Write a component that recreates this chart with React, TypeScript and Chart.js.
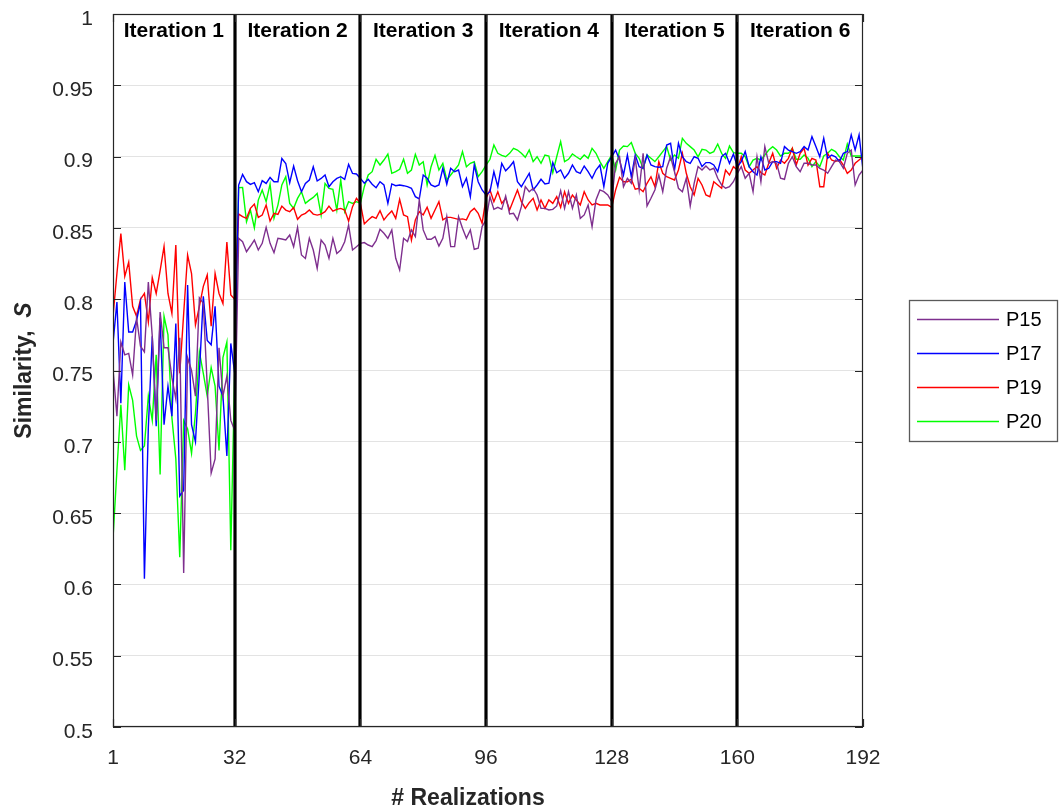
import React, { useEffect, useRef } from "react";
import { Chart, registerables } from "chart.js";

Chart.register(...registerables);

// ---------- data ----------
const xTicks = [1, 32, 64, 96, 128, 160, 192];
const iterationBounds = [1, 32, 64, 96, 128, 160, 192];
const iterationLabels = ["Iteration 1", "Iteration 2", "Iteration 3", "Iteration 4", "Iteration 5", "Iteration 6"];
const seriesNames = ["P15", "P17", "P19", "P20"];
const seriesColors = ["#7E2F8E", "#0000FF", "#FF0000", "#00FF00"];

const P15 = [
  0.751, 0.718, 0.770, 0.761, 0.762, 0.747, 0.787, 0.767, 0.763, 0.812, 0.774, 0.715, 0.791, 0.766, 0.766, 0.745,
  0.730, 0.773, 0.608, 0.759, 0.750, 0.732, 0.801, 0.797, 0.739, 0.678, 0.688, 0.766, 0.732, 0.746, 0.715, 0.708,
  0.8427, 0.8403, 0.8333, 0.8373, 0.8415, 0.8345, 0.8392, 0.8504, 0.8392, 0.8326, 0.8427, 0.8422, 0.8415, 0.8450, 0.8368, 0.8504,
  0.8310, 0.8286, 0.8427, 0.8345, 0.8216, 0.8415, 0.8380, 0.8286, 0.8427, 0.8321, 0.8345, 0.8403, 0.8520, 0.8345, 0.8368, 0.8392,
  0.8397, 0.8380, 0.8369, 0.8411, 0.8490, 0.8462, 0.8427, 0.8486, 0.8287, 0.8205, 0.8427, 0.8404, 0.8486, 0.8439, 0.8696, 0.8486,
  0.8420, 0.8420, 0.8439, 0.8373, 0.8427, 0.8579, 0.8369, 0.8369, 0.8579, 0.8497, 0.8427, 0.8486, 0.8350, 0.8357, 0.8509, 0.8556,
  0.8719, 0.8630, 0.8644, 0.8630, 0.8724, 0.8598, 0.8602, 0.8556, 0.8649, 0.8789, 0.8754, 0.8778, 0.8731, 0.8637, 0.8637, 0.8626,
  0.8630, 0.8654, 0.8761, 0.8637, 0.8754, 0.8637, 0.8731, 0.8567, 0.8591, 0.8661, 0.8509, 0.8696, 0.8766, 0.8754, 0.8731, 0.8684,
  0.8953, 0.8999, 0.8789, 0.8848, 0.8813, 0.8988, 0.8766, 0.9023, 0.8654, 0.8708, 0.8766, 0.8871, 0.8754, 0.8918, 0.8999, 0.8894,
  0.8778, 0.8754, 0.8848, 0.8654, 0.8813, 0.8930, 0.8906, 0.8934, 0.8906, 0.8918, 0.8848, 0.8801, 0.8778, 0.8789, 0.8824, 0.8883,
  0.8930, 0.8848, 0.8883, 0.8754, 0.8999, 0.8824, 0.9070, 0.8953, 0.8965, 0.8953, 0.8848, 0.8841, 0.8953, 0.8999, 0.8930, 0.8894,
  0.8953, 0.8953, 0.8941, 0.8941, 0.8918, 0.8906, 0.8883, 0.8930, 0.8976, 0.8965, 0.8918, 0.9023, 0.9046, 0.8801, 0.8871, 0.8906,
];

const P17 = [
  0.769, 0.798, 0.727, 0.812, 0.777, 0.777, 0.785, 0.798, 0.604, 0.710, 0.774, 0.711, 0.787, 0.712, 0.739, 0.718,
  0.783, 0.662, 0.666, 0.810, 0.712, 0.700, 0.748, 0.802, 0.771, 0.768, 0.795, 0.739, 0.732, 0.690, 0.769, 0.748,
  0.8800, 0.8875, 0.8824, 0.8805, 0.8817, 0.8754, 0.8831, 0.8812, 0.8854, 0.8824, 0.8824, 0.8987, 0.8952, 0.8817, 0.8934, 0.8831,
  0.8754, 0.8812, 0.8836, 0.8929, 0.8829, 0.8847, 0.8871, 0.8789, 0.8824, 0.8847, 0.8859, 0.8840, 0.8945, 0.8882, 0.8878, 0.8847,
  0.8813, 0.8841, 0.8806, 0.8782, 0.8824, 0.8801, 0.8672, 0.8808, 0.8796, 0.8801, 0.8796, 0.8789, 0.8778, 0.8719, 0.8703, 0.8871,
  0.8848, 0.8801, 0.8789, 0.8801, 0.8918, 0.8806, 0.8918, 0.8894, 0.8906, 0.8789, 0.8848, 0.8719, 0.8941, 0.8824, 0.8766, 0.8731,
  0.8754, 0.8894, 0.8789, 0.8953, 0.8901, 0.8929, 0.8964, 0.8824, 0.8789, 0.8836, 0.8883, 0.8766, 0.8801, 0.8841, 0.8808, 0.8813,
  0.8958, 0.8887, 0.8906, 0.8848, 0.8883, 0.8941, 0.8894, 0.8883, 0.8934, 0.8894, 0.8848, 0.8906, 0.8941, 0.8789, 0.8953, 0.8999,
  0.9046, 0.8976, 0.8871, 0.9011, 0.8859, 0.9011, 0.8929, 0.8918, 0.9011, 0.8941, 0.8930, 0.8925, 0.8930, 0.9081, 0.9093, 0.8906,
  0.9093, 0.8999, 0.8965, 0.8953, 0.8999, 0.8988, 0.8930, 0.8958, 0.8958, 0.8941, 0.8894, 0.8999, 0.9023, 0.8953, 0.9018, 0.8930,
  0.8965, 0.9035, 0.8930, 0.8894, 0.8871, 0.8999, 0.8906, 0.8918, 0.8965, 0.8965, 0.8953, 0.9070, 0.9046, 0.9035, 0.9023, 0.9035,
  0.9070, 0.9046, 0.9140, 0.9070, 0.8999, 0.9128, 0.8988, 0.9011, 0.8999, 0.8965, 0.9023, 0.9035, 0.9152, 0.9046, 0.9152, 0.8906,
];

const P19 = [
  0.788, 0.818, 0.846, 0.816, 0.826, 0.795, 0.788, 0.800, 0.804, 0.784, 0.815, 0.804, 0.820, 0.837, 0.804, 0.790,
  0.838, 0.748, 0.790, 0.831, 0.818, 0.782, 0.795, 0.809, 0.817, 0.781, 0.818, 0.804, 0.797, 0.840, 0.803, 0.800,
  0.8597, 0.8579, 0.8567, 0.8637, 0.8667, 0.8574, 0.8590, 0.8660, 0.8548, 0.8602, 0.8595, 0.8653, 0.8625, 0.8614, 0.8642, 0.8560,
  0.8590, 0.8602, 0.8625, 0.8597, 0.8590, 0.8597, 0.8614, 0.8653, 0.8618, 0.8630, 0.8637, 0.8625, 0.8548, 0.8649, 0.8707, 0.8672,
  0.8528, 0.8556, 0.8579, 0.8567, 0.8621, 0.8556, 0.8591, 0.8619, 0.8567, 0.8700, 0.8591, 0.8579, 0.8415, 0.8556, 0.8614, 0.8591,
  0.8645, 0.8567, 0.8626, 0.8684, 0.8556, 0.8574, 0.8574, 0.8567, 0.8560, 0.8563, 0.8556, 0.8614, 0.8637, 0.8602, 0.8532, 0.8708,
  0.8766, 0.8684, 0.8754, 0.8672, 0.8707, 0.8626, 0.8696, 0.8766, 0.8684, 0.8637, 0.8677, 0.8707, 0.8626, 0.8696, 0.8637, 0.8696,
  0.8672, 0.8719, 0.8644, 0.8754, 0.8672, 0.8731, 0.8696, 0.8661, 0.8754, 0.8696, 0.8661, 0.8672, 0.8661, 0.8661, 0.8661, 0.8644,
  0.8766, 0.8855, 0.8824, 0.8824, 0.8841, 0.8771, 0.8778, 0.8754, 0.8813, 0.8859, 0.8789, 0.8964, 0.8883, 0.8859, 0.8848, 0.8836,
  0.8906, 0.9023, 0.8883, 0.8789, 0.8731, 0.8848, 0.8801, 0.8731, 0.8719, 0.8824, 0.8801, 0.8778, 0.8906, 0.8871, 0.8929, 0.8906,
  0.8999, 0.8906, 0.8883, 0.8906, 0.8930, 0.8887, 0.8871, 0.8953, 0.9023, 0.8918, 0.8976, 0.8953, 0.8988, 0.9058, 0.8941, 0.9023,
  0.9058, 0.8941, 0.8988, 0.8976, 0.8789, 0.8789, 0.9023, 0.8976, 0.8965, 0.8981, 0.8941, 0.8883, 0.8906, 0.8953, 0.8976, 0.8999,
];

const P20 = [
  0.632, 0.680, 0.726, 0.680, 0.740, 0.729, 0.704, 0.694, 0.697, 0.732, 0.715, 0.761, 0.677, 0.788, 0.775, 0.717,
  0.688, 0.619, 0.715, 0.709, 0.692, 0.720, 0.763, 0.748, 0.732, 0.752, 0.739, 0.694, 0.759, 0.770, 0.624, 0.750,
  0.8782, 0.8784, 0.8543, 0.8625, 0.8501, 0.8695, 0.8765, 0.8684, 0.8807, 0.8567, 0.8660, 0.8801, 0.8859, 0.8672, 0.8637, 0.8707,
  0.8754, 0.8672, 0.8695, 0.8714, 0.8742, 0.8590, 0.8812, 0.8777, 0.8770, 0.8625, 0.8836, 0.8614, 0.8684, 0.8672, 0.8684, 0.8672,
  0.8789, 0.8871, 0.8894, 0.8981, 0.8941, 0.8976, 0.9018, 0.8883, 0.8894, 0.8911, 0.8981, 0.8883, 0.8906, 0.9016, 0.8941, 0.8964,
  0.8801, 0.8929, 0.9009, 0.8906, 0.8953, 0.8836, 0.8871, 0.8906, 0.8941, 0.9035, 0.8929, 0.8953, 0.8964, 0.8859, 0.8894, 0.8941,
  0.8981, 0.9081, 0.9023, 0.9009, 0.8999, 0.9023, 0.9058, 0.9046, 0.9023, 0.8995, 0.9046, 0.8965, 0.8999, 0.8953, 0.9011, 0.9004,
  0.8887, 0.8999, 0.9105, 0.8965, 0.8981, 0.9018, 0.8999, 0.8981, 0.9011, 0.8988, 0.9058, 0.9023, 0.8965, 0.8918, 0.8965, 0.9011,
  0.8906, 0.9046, 0.9074, 0.9070, 0.9098, 0.9023, 0.8988, 0.8918, 0.9011, 0.8988, 0.8965, 0.8999, 0.9035, 0.9070, 0.8976, 0.9011,
  0.8988, 0.9128, 0.9093, 0.9070, 0.9046, 0.8999, 0.9051, 0.9046, 0.9023, 0.9035, 0.9088, 0.9023, 0.8988, 0.9074, 0.9028, 0.9023,
  0.9023, 0.8999, 0.8930, 0.8976, 0.8988, 0.8976, 0.9011, 0.9046, 0.9070, 0.9046, 0.9004, 0.9023, 0.9023, 0.9058, 0.8981, 0.8981,
  0.9011, 0.8988, 0.8930, 0.8965, 0.8930, 0.9004, 0.9023, 0.9051, 0.9035, 0.8999, 0.8976, 0.9088, 0.9004, 0.9004, 0.9004, 0.9004,
];

const yMin = 0.5;
const yMax = 1;
const yStep = 0.05;
const xTitle = "# Realizations";
const yTitleMain = "Similarity,  ";
const yTitleSymbol = "S";

const FONT = '"Liberation Sans", Arial, Helvetica, sans-serif';
const AXIS_COLOR = "#262626";

const decorPlugin = {
  id: "decor",
  afterDatasetsDraw(chart: any) {
    const { ctx, chartArea, scales } = chart;
    const { left, right, top, bottom } = chartArea;
    const xs = scales.x;
    const ys = scales.y;
    ctx.save();

    // iteration separators
    ctx.strokeStyle = "#000";
    ctx.lineWidth = 3.2;
    iterationBounds.slice(1, -1).forEach((b) => {
      const px = Math.round(xs.getPixelForValue(b));
      ctx.beginPath();
      ctx.moveTo(px, top);
      ctx.lineTo(px, bottom);
      ctx.stroke();
    });

    // box
    ctx.strokeStyle = AXIS_COLOR;
    ctx.lineWidth = 1.2;
    ctx.strokeRect(left + 0.5, top + 0.5, right - left - 1, bottom - top - 1);

    // inward tick marks
    const tl = 8;
    ctx.lineWidth = 1.2;
    ys.ticks.forEach((t: any) => {
      const py = Math.round(ys.getPixelForValue(t.value)) + 0.5;
      ctx.beginPath();
      ctx.moveTo(left, py);
      ctx.lineTo(left + tl, py);
      ctx.moveTo(right, py);
      ctx.lineTo(right - tl, py);
      ctx.stroke();
    });
    xTicks.forEach((v) => {
      const px = Math.round(xs.getPixelForValue(v)) + 0.5;
      ctx.beginPath();
      ctx.moveTo(px, bottom);
      ctx.lineTo(px, bottom - tl);
      ctx.moveTo(px, top);
      ctx.lineTo(px, top + tl);
      ctx.stroke();
    });

    // iteration labels
    ctx.fillStyle = "#000";
    ctx.font = `bold 21px ${FONT}`;
    ctx.textAlign = "center";
    ctx.textBaseline = "alphabetic";
    iterationLabels.forEach((lab, i) => {
      const a = xs.getPixelForValue(iterationBounds[i]);
      const b = xs.getPixelForValue(iterationBounds[i + 1]);
      ctx.fillText(lab, (a + b) / 2, top + 23);
    });

    // x title
    ctx.fillStyle = AXIS_COLOR;
    ctx.font = `bold 23px ${FONT}`;
    ctx.textAlign = "center";
    ctx.fillText(xTitle, 468, 805);

    // y title (rotated)
    ctx.save();
    ctx.translate(31, (top + bottom) / 2);
    ctx.rotate(-Math.PI / 2);
    ctx.font = `bold 23px ${FONT}`;
    const w1 = ctx.measureText(yTitleMain).width;
    ctx.font = `italic bold 23px ${FONT}`;
    const w2 = ctx.measureText(yTitleSymbol).width;
    const start = -(w1 + w2) / 2;
    ctx.textAlign = "left";
    ctx.font = `bold 23px ${FONT}`;
    ctx.fillText(yTitleMain, start, 0);
    ctx.font = `italic bold 23px ${FONT}`;
    ctx.fillText(yTitleSymbol, start + w1, 0);
    ctx.restore();

    // legend
    const lx = 909, ly = 300, lw = 148, lh = 141;
    ctx.fillStyle = "#fff";
    ctx.fillRect(lx, ly, lw, lh);
    ctx.strokeStyle = "#5a5a5a";
    ctx.lineWidth = 1.3;
    ctx.strokeRect(lx + 0.5, ly + 0.5, lw, lh);
    ctx.font = `20px ${FONT}`;
    ctx.textAlign = "left";
    ctx.textBaseline = "middle";
    seriesNames.forEach((name, i) => {
      const yy = 319 + i * 34;
      ctx.strokeStyle = seriesColors[i];
      ctx.lineWidth = 1.3;
      ctx.beginPath();
      ctx.moveTo(917, yy + 0.5);
      ctx.lineTo(999, yy + 0.5);
      ctx.stroke();
      ctx.fillStyle = "#000";
      ctx.fillText(name, 1006, yy + 1);
    });

    ctx.restore();
  },
};

export default function App() {
  const canvasRef = useRef<HTMLCanvasElement | null>(null);

  useEffect(() => {
    const canvas = canvasRef.current;
    if (!canvas) return;
    const seriesData = [P15, P17, P19, P20];
    const chart = new Chart(canvas, {
      type: "line",
      data: {
        datasets: seriesData.map((arr, si) => ({
          label: seriesNames[si],
          data: arr.map((v, i) => ({ x: i + 1, y: v })),
          borderColor: seriesColors[si],
          backgroundColor: seriesColors[si],
          borderWidth: 1.4,
          pointRadius: 0,
          tension: 0,
          fill: false,
        })),
      },
      options: {
        responsive: false,
        animation: false,
        devicePixelRatio: 1,
        layout: { padding: { top: 14, right: 196, left: 0, bottom: 0 } },
        plugins: {
          legend: { display: false },
          tooltip: { enabled: false },
          title: { display: false },
        },
        scales: {
          x: {
            type: "linear",
            min: 1,
            max: 192,
            afterBuildTicks: (scale: any) => {
              scale.ticks = xTicks.map((v) => ({ value: v }));
            },
            afterFit: (scale: any) => {
              scale.height = 82;
              scale.paddingLeft = 0;
              scale.paddingRight = 0;
            },
            grid: { display: false, drawTicks: false },
            border: { display: false },
            ticks: {
              color: AXIS_COLOR,
              font: { family: FONT, size: 21 },
              padding: 19,
              maxRotation: 0,
              autoSkip: false,
            },
          },
          y: {
            min: yMin,
            max: yMax,
            afterFit: (scale: any) => {
              scale.width = 113;
              scale.paddingTop = 0;
              scale.paddingBottom = 0;
            },
            grid: { color: "#e3e3e3", lineWidth: 1, drawTicks: false },
            border: { display: false },
            ticks: {
              stepSize: yStep,
              color: AXIS_COLOR,
              font: { family: FONT, size: 21 },
              padding: 20,
              labelOffset: 5,
              callback: (v: any) => String(Math.round(Number(v) * 100) / 100),
            },
          },
        },
      },
      plugins: [decorPlugin],
    });
    return () => chart.destroy();
  }, []);

  return (
    <div style={{ position: "fixed", left: 0, top: 0, width: 1059, height: 809, background: "#fff" }}>
      <canvas ref={canvasRef} width={1059} height={809} style={{ display: "block", width: 1059, height: 809 }} />
    </div>
  );
}
